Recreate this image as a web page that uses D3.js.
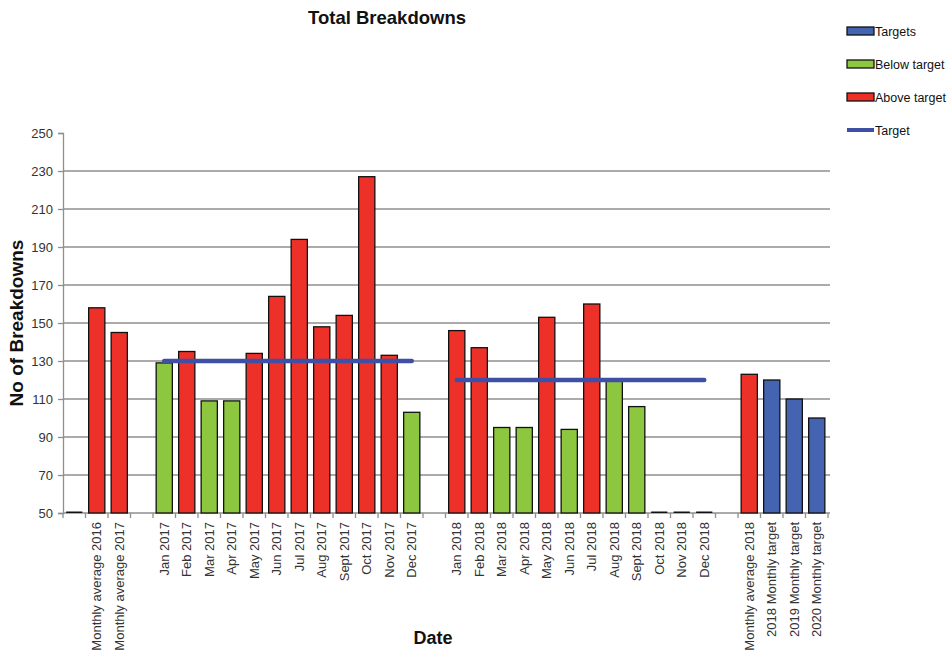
<!DOCTYPE html>
<html>
<head>
<meta charset="utf-8">
<script src="https://cdn.jsdelivr.net/npm/d3@7"></script>
<style>
  body { margin: 0; background: #fff; }
  svg { display: block; }
</style>
</head>
<body>
<svg></svg>
<script>
// chart data
const categories = ['', 'Monthly average 2016', 'Monthly average 2017', '',
  'Jan 2017', 'Feb 2017', 'Mar 2017', 'Apr 2017', 'May 2017', 'Jun 2017', 'Jul 2017',
  'Aug 2017', 'Sept 2017', 'Oct 2017', 'Nov 2017', 'Dec 2017', '',
  'Jan 2018', 'Feb 2018', 'Mar 2018', 'Apr 2018', 'May 2018', 'Jun 2018', 'Jul 2018',
  'Aug 2018', 'Sept 2018', 'Oct 2018', 'Nov 2018', 'Dec 2018', '',
  'Monthly average 2018', '2018 Monthly target', '2019 Monthly target', '2020 Monthly target'];
const values = [0, 158, 145, null,
  129, 135, 109, 109, 134, 164, 194, 148, 154, 227, 133, 103, null,
  146, 137, 95, 95, 153, 94, 160, 120, 106, 0, 0, 0, null,
  123, 120, 110, 100];
const status = ['above', 'above', 'above', null,
  'below', 'above', 'below', 'below', 'above', 'above', 'above', 'above', 'above', 'above', 'above', 'below', null,
  'above', 'above', 'below', 'below', 'above', 'below', 'above', 'below', 'below', 'below', 'below', 'below', null,
  'above', 'targets', 'targets', 'targets'];
const targetLines = [
  { from: 'Jan 2017', to: 'Dec 2017', value: 130 },
  { from: 'Jan 2018', to: 'Dec 2018', value: 120 }
];
const yTicks = [50, 70, 90, 110, 130, 150, 170, 190, 210, 230, 250];
const legendItems = [
  { key: 'targets', label: 'Targets' },
  { key: 'below', label: 'Below target' },
  { key: 'above', label: 'Above target' },
  { key: 'line', label: 'Target' }
];

const WIDTH = 951;
const HEIGHT = 653;
const LEFT = 63;
const RIGHT = 828;
const TOP = 133;
const BOTTOM = 513;
const FONT = '"Liberation Sans", Arial, sans-serif';

const colors = { above: '#ee3128', below: '#8dc63f', targets: '#4463b0', line: '#3f4fa6' };

const svg = d3.select('svg').
attr('width', WIDTH).
attr('height', HEIGHT).
attr('font-family', FONT);

const x = d3.scaleBand().
domain(d3.range(categories.length)).
range([LEFT, RIGHT]).
paddingInner(0.28).
paddingOuter(0.14);

const y = d3.scaleLinear().
domain([50, 250]).
range([BOTTOM, TOP]).
clamp(true);

const gap = (x.step() - x.bandwidth()) / 2;

// gridlines
svg.append('g').
selectAll('line').
data(yTicks.filter(t => t > 50 && t < 250)).
join('line').
attr('x1', LEFT).
attr('x2', RIGHT + 2).
attr('y1', d => y(d)).
attr('y2', d => y(d)).
attr('stroke', '#8f8f8f').
attr('stroke-width', 1.3);

// y axis
const yAxis = d3.axisLeft(y).tickValues(yTicks).tickSize(5).tickPadding(5);
const yG = svg.append('g').
attr('transform', `translate(${LEFT},0)`).
call(yAxis);
yG.select('.domain').attr('stroke', '#8f8f8f').attr('stroke-width', 1.3);
yG.selectAll('.tick line').attr('stroke', '#8f8f8f').attr('stroke-width', 1.3);
yG.selectAll('.tick text').
attr('font-size', '13px').
attr('font-family', FONT).
attr('fill', '#333');

// x axis line + ticks at slot boundaries
svg.append('line').
attr('x1', LEFT).
attr('x2', RIGHT + 2).
attr('y1', BOTTOM).
attr('y2', BOTTOM).
attr('stroke', '#8f8f8f').
attr('stroke-width', 1.3);

svg.append('g').
selectAll('line').
data(d3.range(categories.length + 1)).
join('line').
attr('x1', d => (d < categories.length ? x(d) - gap : x(d - 1) + x.bandwidth() + gap)).
attr('x2', d => (d < categories.length ? x(d) - gap : x(d - 1) + x.bandwidth() + gap)).
attr('y1', BOTTOM).
attr('y2', BOTTOM + 5).
attr('stroke', '#8f8f8f').
attr('stroke-width', 1.3);

// x labels
svg.append('g').
selectAll('text').
data(categories).
join('text').
attr('transform', (d, i) => `translate(${x(i) + x.bandwidth() / 2 + 4.5},${BOTTOM + 9}) rotate(-90)`).
attr('text-anchor', 'end').
attr('font-size', '13px').
attr('fill', '#333').
text(d => d);

// bars (zero values sit flat on the axis, as a thin dark line)
const barData = values.map((v, i) => ({ i, v, s: status[i] })).filter(d => d.v !== null);

svg.append('g').
selectAll('rect').
data(barData).
join('rect').
attr('x', d => x(d.i)).
attr('y', d => Math.min(y(d.v), BOTTOM - 1.5)).
attr('width', x.bandwidth()).
attr('height', d => Math.max(BOTTOM - y(d.v), 1.5)).
attr('fill', d => (d.v <= 50 ? '#111' : colors[d.s])).
attr('stroke', '#111').
attr('stroke-width', d => (d.v <= 50 ? 0 : 1.3));

// target lines
svg.append('g').
selectAll('line').
data(targetLines).
join('line').
attr('x1', d => x(categories.indexOf(d.from)) + x.bandwidth() / 2).
attr('x2', d => x(categories.indexOf(d.to)) + x.bandwidth() / 2).
attr('y1', d => y(d.value)).
attr('y2', d => y(d.value)).
attr('stroke', colors.line).
attr('stroke-width', 4.5).
attr('stroke-linecap', 'round');

// titles
svg.append('text').
attr('x', 387).
attr('y', 24).
attr('text-anchor', 'middle').
attr('font-size', '18.5px').
attr('font-weight', 'bold').
attr('fill', '#111').
text('Total Breakdowns');

svg.append('text').
attr('transform', `translate(23,${(TOP + BOTTOM) / 2}) rotate(-90)`).
attr('text-anchor', 'middle').
attr('font-size', '19px').
attr('font-weight', 'bold').
attr('fill', '#111').
text('No of Breakdowns');

svg.append('text').
attr('x', 433).
attr('y', 644).
attr('text-anchor', 'middle').
attr('font-size', '18px').
attr('font-weight', 'bold').
attr('fill', '#111').
text('Date');

// legend
const legend = svg.append('g').
selectAll('g').
data(legendItems).
join('g').
attr('transform', (d, i) => `translate(847,${31 + i * 33})`);

legend.filter(d => d.key !== 'line').
append('rect').
attr('x', 0).
attr('y', -4).
attr('width', 27).
attr('height', 8).
attr('fill', d => colors[d.key]).
attr('stroke', '#111').
attr('stroke-width', 1.3);

legend.filter(d => d.key === 'line').
append('line').
attr('x1', 0).
attr('x2', 27).
attr('stroke', colors.line).
attr('stroke-width', 4);

legend.append('text').
attr('x', 28).
attr('y', 4.5).
attr('font-size', '12.5px').
attr('fill', '#111').
text(d => d.label);
</script>
</body>
</html>
